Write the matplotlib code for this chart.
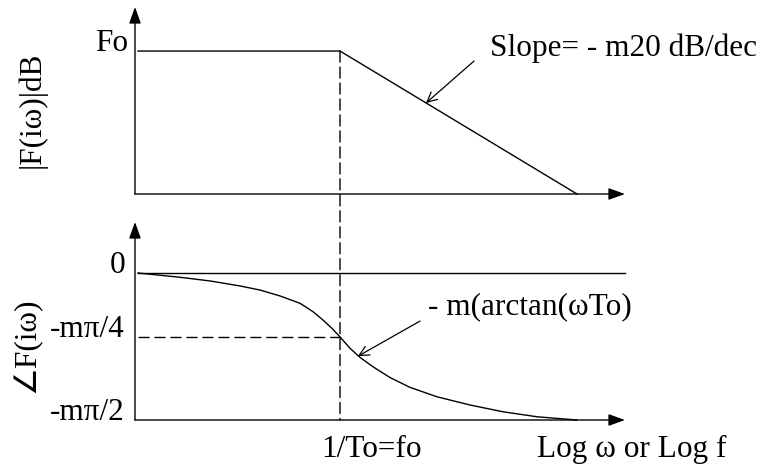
import matplotlib
matplotlib.use('Agg')
import matplotlib.pyplot as plt
from matplotlib.patches import ConnectionPatch

plt.rcParams['font.family'] = ['Liberation Serif', 'DejaVu Sans']
plt.rcParams['font.size'] = 22.5

# log frequency in decades, corner frequency at 0
x_min, x_max = -2.05, 2.85
x_start = -2.02

# asymptotic magnitude (Fo normalised to 1)
mag_x = [x_start, 0.0, 2.37]
mag_y = [1.0, 1.0, 0.0]

# phase, in units of m*pi/2
phase_x = [-2.02, -1.60, -1.30, -1.00, -0.80, -0.60, -0.40, -0.27, -0.17, -0.08,
           0.00, 0.10, 0.20, 0.33, 0.50, 0.70, 0.97, 1.30, 1.63, 1.97, 2.37]
phase_y = [0.0, -0.029, -0.054, -0.088, -0.116, -0.156, -0.206, -0.263, -0.320, -0.377,
           -0.435, -0.512, -0.574, -0.638, -0.711, -0.778, -0.842, -0.898, -0.944, -0.978, -1.0]

mag_ticks = [1.0]
mag_labels = ['Fo']
phase_ticks = [0.0, -0.435, -1.0]
phase_labels = ['0', '-m\u03c0/4', '-m\u03c0/2']

fig = plt.figure(figsize=(7.64, 4.71), dpi=100)
ax1 = fig.add_axes([135 / 764, 1 - 194 / 471, 490 / 764, 187 / 471])
ax2 = fig.add_axes([135 / 764, 1 - 420 / 471, 490 / 764, 198 / 471])
ax1.set_xlim(x_min, x_max)
ax1.set_ylim(0, 1.308)
ax2.set_xlim(x_min, x_max)
ax2.set_ylim(-1.0, 0.347)
for ax in (ax1, ax2):
    ax.axis('off')

axis_arrow = dict(arrowstyle='-|>,head_length=0.5,head_width=0.18', color='black',
                  lw=1.0, shrinkA=0, shrinkB=0, mutation_scale=20)
ptr_arrow = dict(arrowstyle='->,head_length=0.5,head_width=0.25', color='black',
                 lw=0.9, shrinkA=0, shrinkB=0, mutation_scale=14)

# axes with arrow heads
ax1.annotate('', xy=(x_max, 0), xytext=(x_min, 0), arrowprops=axis_arrow, annotation_clip=False)
ax1.annotate('', xy=(x_min, 1.308), xytext=(x_min, 0), arrowprops=axis_arrow, annotation_clip=False)
ax2.annotate('', xy=(x_max, -1.0), xytext=(x_min, -1.0), arrowprops=axis_arrow, annotation_clip=False)
ax2.annotate('', xy=(x_min, 0.347), xytext=(x_min, -1.0), arrowprops=axis_arrow, annotation_clip=False)

# magnitude
ax1.plot(mag_x, mag_y, color='black', lw=1.0, clip_on=False)
for v, lab in zip(mag_ticks, mag_labels):
    ax1.text(x_min - 0.07, v, lab, ha='right', va='baseline')

# phase
ax2.plot([x_start, x_max], [0, 0], color='black', lw=1.0, clip_on=False)
ax2.plot(phase_x, phase_y, color='black', lw=1.0, clip_on=False)
for v, lab in zip(phase_ticks, phase_labels):
    ax2.text(x_min - 0.10, v, lab, ha='right', va='baseline')

# corner frequency guides
dash = (0, (8, 3.5))
ax2.plot([x_start, 0], [phase_ticks[1]] * 2, color='black', lw=1.0, ls=dash)
con = ConnectionPatch(xyA=(0, 1.0), coordsA=ax1.transData, xyB=(0, -1.0), coordsB=ax2.transData,
                      color='black', lw=1.0, ls=dash)
fig.add_artist(con)

# annotations
ax1.text(1.50, 1.02, 'Slope= - m20 dB/dec', ha='left', va='center')
ax1.annotate('', xy=(0.86, 0.636), xytext=(1.34, 0.930), arrowprops=ptr_arrow)
ax2.text(0.88, -0.231, '- m(arctan(\u03c9To)', ha='left', va='center')
ax2.annotate('', xy=(0.18, -0.566), xytext=(0.80, -0.327), arrowprops=ptr_arrow)

ax2.text(0.32, -1.25, '1/To=fo', ha='center', va='baseline', clip_on=False)
ax2.text(1.97, -1.25, 'Log \u03c9 or Log f', ha='left', va='baseline', clip_on=False)

fig.text(32 / 764, 1 - 110 / 471, '|F(i\u03c9)|dB', rotation=90, ha='center', va='center')
fig.text(27 / 764, 1 - 345 / 471, '\u2220F(i\u03c9)', rotation=90, ha='center', va='center')

fig.savefig('out.png', dpi=100)
